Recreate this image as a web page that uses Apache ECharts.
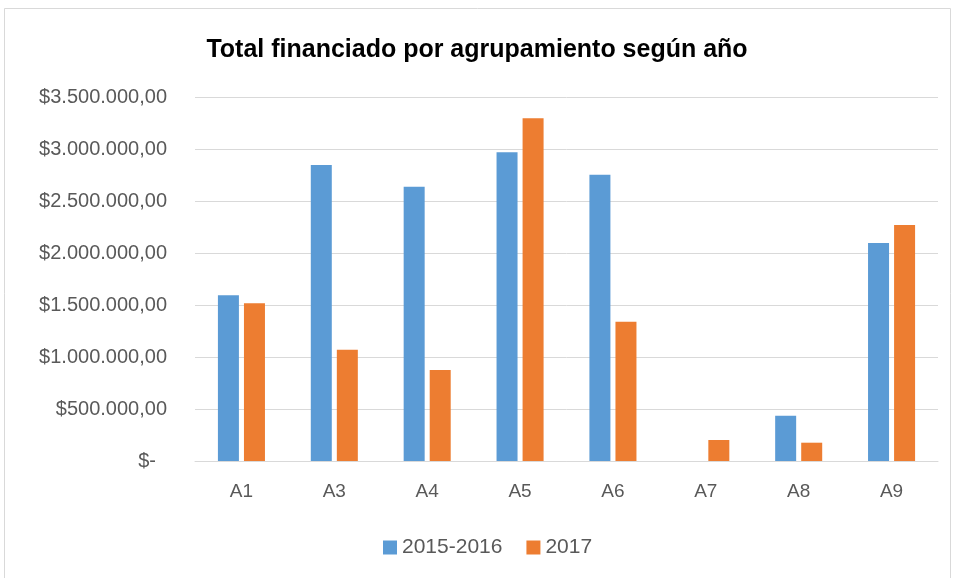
<!DOCTYPE html>
<html>
<head>
<meta charset="utf-8">
<script src="https://cdn.jsdelivr.net/npm/echarts@6/dist/echarts.min.js"></script>
<style>
html,body{margin:0;padding:0;background:#fff;}
#c{width:954px;height:578px;}
</style>
</head>
<body>
<div id="c"></div>
<script>
var categories = ['A1','A3','A4','A5','A6','A7','A8','A9'];
var series2015_2016 = [1593000, 2846000, 2638000, 2968000, 2753000, 0, 436000, 2096000];
var series2017 = [1516000, 1070000, 875000, 3295000, 1340000, 202000, 176000, 2269000];
var seriesNames = ['2015-2016', '2017'];
var yTicks = [0, 500000, 1000000, 1500000, 2000000, 2500000, 3000000, 3500000];

function fmt(v){
  if (v === 0) return '{z|$-}';
  var s = String(Math.round(v));
  var out = '';
  while (s.length > 3){ out = '.' + s.slice(-3) + out; s = s.slice(0, -3); }
  return '$' + s + out + ',00';
}

var chart = echarts.init(document.getElementById('c'), null, {renderer:'canvas'});
var font = '"Liberation Sans", Arial, sans-serif';
chart.setOption({
  animation: false,
  backgroundColor: '#ffffff',
  textStyle: {fontFamily: font},
  title: {
    text: 'Total financiado por agrupamiento según año',
    left: 'center', top: 33,
    textStyle: {fontFamily: font, fontSize: 25, fontWeight: 'bold', color: '#000000'}
  },
  graphic: [{
    type: 'rect', shape: {x: 4.5, y: 8.5, width: 946, height: 575},
    style: {fill: 'none', stroke: '#D9D9D9', lineWidth: 1}, silent: true
  }],
  legend: {
    data: seriesNames,
    bottom: 15, left: 378,
    itemWidth: 14, itemHeight: 14, itemGap: 24,
    icon: 'rect',
    textStyle: {fontFamily: font, fontSize: 21, color: '#595959', padding: [0,0,0,0]}
  },
  grid: {left: 195, right: 16, top: 97, bottom: 117, containLabel: false},
  xAxis: {
    type: 'category', data: categories,
    axisLine: {lineStyle: {color: '#D9D9D9', width: 1}},
    axisTick: {show: false},
    axisLabel: {fontFamily: font, fontSize: 19, color: '#595959', margin: 21}
  },
  yAxis: {
    type: 'value', min: 0, max: 3500000, interval: 500000,
    axisLine: {show: false}, axisTick: {show: false},
    splitLine: {lineStyle: {color: '#D9D9D9', width: 1}},
    axisLabel: {
      fontFamily: font, fontSize: 20, color: '#595959', margin: 28,
      formatter: fmt,
      rich: {z: {fontFamily: font, fontSize: 20, color: '#595959', padding: [0, 11, 0, 0]}}
    }
  },
  series: [
    {name: seriesNames[0], type: 'bar', data: series2015_2016, barWidth: 21, barGap: '24%',
     itemStyle: {color: '#5B9BD5'}},
    {name: seriesNames[1], type: 'bar', data: series2017, barWidth: 21, barGap: '24%',
     itemStyle: {color: '#ED7D31'}}
  ]
});
</script>
</body>
</html>
